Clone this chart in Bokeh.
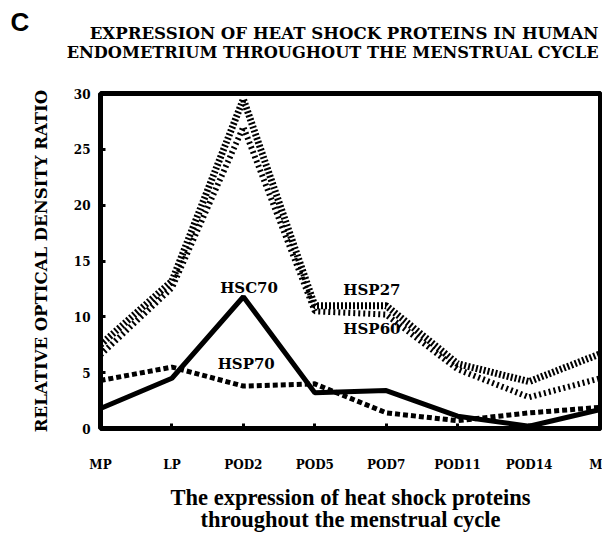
from bokeh.plotting import figure
from bokeh.models import Range1d, FixedTicker, Label, Title
from bokeh.embed import file_html
from bokeh.resources import INLINE

# ---- data ----
categories = ["MP", "LP", "POD2", "POD5", "POD7", "POD11", "POD14", "M"]
hsp27 = [7.5, 13.2, 29.5, 11.0, 11.0, 5.8, 4.2, 6.7]
hsp60 = [6.6, 12.6, 27.0, 10.5, 10.2, 5.3, 2.8, 4.5]
hsc70 = [1.8, 4.5, 11.8, 3.2, 3.4, 1.1, 0.2, 1.7]
hsp70 = [4.3, 5.5, 3.8, 4.0, 1.4, 0.7, 1.4, 1.9]
y_ticks = [0, 5, 10, 15, 20, 25, 30]
title_lines = ["EXPRESSION OF HEAT SHOCK PROTEINS IN HUMAN",
               "ENDOMETRIUM THROUGHOUT THE MENSTRUAL CYCLE"]
caption_lines = ["The expression of heat shock proteins",
                 "throughout the menstrual cycle"]
y_label = "RELATIVE OPTICAL DENSITY RATIO"

xs = list(range(len(categories)))

W, H = 602, 534
p = figure(width=W, height=H, x_range=Range1d(0, len(categories) - 1),
           y_range=Range1d(0, 30), output_backend="svg", toolbar_location=None,
           min_border_left=100, min_border_right=2, min_border_top=93,
           min_border_bottom=106)
p.grid.visible = False
p.outline_line_color = "black"
p.outline_line_width = 5
p.background_fill_color = "white"
p.border_fill_color = "white"

serif = "DejaVu Serif"

p.xaxis.ticker = FixedTicker(ticks=xs)
p.xaxis.major_label_overrides = {i: c for i, c in enumerate(categories)}
p.yaxis.ticker = FixedTicker(ticks=y_ticks)
for ax in (p.xaxis[0], p.yaxis[0]):
    ax.axis_line_color = None
    ax.major_tick_in = 5
    ax.major_tick_out = 0
    ax.major_tick_line_width = 3
    ax.major_tick_line_color = "black"
    ax.minor_tick_line_color = None
    ax.major_label_text_font = serif
    ax.major_label_text_font_style = "bold"
    ax.major_label_text_color = "black"
p.xaxis.major_label_text_font_size = "12px"
p.xaxis.major_label_standoff = 29
p.yaxis.major_label_text_font_size = "12px"
p.yaxis.major_label_standoff = 10
p.yaxis.axis_label = y_label
p.yaxis.axis_label_text_font = serif
p.yaxis.axis_label_text_font_style = "bold"
p.yaxis.axis_label_text_font_size = "16.5px"
p.yaxis.axis_label_text_color = "black"
p.yaxis.axis_label_standoff = 20

# ---- series ----
p.line(xs, hsp27, line_color="black", line_width=7, line_dash="2 2")
p.line(xs, hsp60, line_color="black", line_width=6, line_dash="2 3")
p.line(xs, hsp70, line_color="black", line_width=5, line_dash="5 3")
p.line(xs, hsc70, line_color="black", line_width=5)

# ---- series labels ----
def add_lab(text, x, y):
    p.add_layout(Label(x=x, y=y, text=text, text_font=serif, text_font_style="bold",
                       text_font_size="15px", text_align="center",
                       text_baseline="middle", text_color="black"))

add_lab("HSC70", xs[2] + 0.08, hsc70[2] + 0.8)
add_lab("HSP70", xs[2] + 0.04, hsp70[2] + 2.0)
add_lab("HSP27", 3.8, hsp27[3] + 1.4)
add_lab("HSP60", 3.8, hsp60[4] - 1.25)

# ---- titles: panels stacked upward from the frame ----
p.add_layout(Title(text=" ", standoff=13, text_font=serif, text_font_size="15px"), "above")
p.add_layout(Title(text=title_lines[1], align="right", standoff=-2, offset=2,
                   text_font=serif, text_font_style="bold", text_font_size="16.2px",
                   text_color="black"), "above")
p.add_layout(Title(text=title_lines[0], align="right", standoff=-2, offset=2,
                   text_font=serif, text_font_style="bold", text_font_size="16.6px",
                   text_color="black"), "above")
p.add_layout(Title(text="C", align="left", standoff=-31, offset=-90,
                   text_font="Liberation Sans", text_font_style="bold",
                   text_font_size="26px", text_color="black"), "above")

# ---- caption: panels stacked downward below the x axis ----
p.add_layout(Title(text=caption_lines[0], align="center", standoff=17,
                   text_font="Liberation Serif", text_font_style="bold",
                   text_font_size="22.5px", text_color="black"), "below")
p.add_layout(Title(text=caption_lines[1], align="center", standoff=-27,
                   text_font="Liberation Serif", text_font_style="bold",
                   text_font_size="22.5px", text_color="black"), "below")

open("out.html", "w").write(file_html(p, INLINE))
